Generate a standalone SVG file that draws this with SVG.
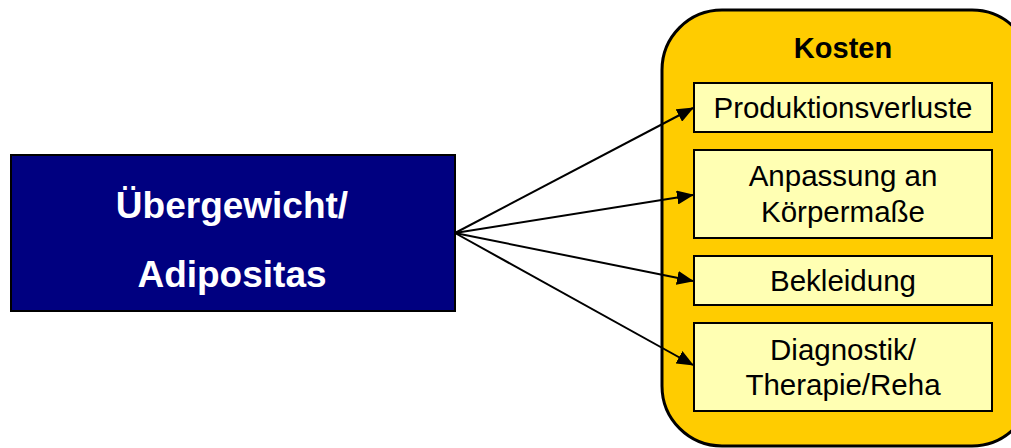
<svg xmlns="http://www.w3.org/2000/svg" width="1011" height="448" viewBox="0 0 1011 448">
<defs>
<style>
.item{fill:#FFFFB3;stroke:#000;stroke-width:2}
.t{font-family:"Liberation Sans",Arial,sans-serif;font-size:29.5px;fill:#000;text-anchor:middle}
.b{font-weight:bold}
.k{font-size:29px}
.w{fill:#fff;font-size:37px}
.c{stroke:#000;stroke-width:2;fill:none;marker-end:url(#ah)}
</style>
<marker id="ah" markerWidth="17" markerHeight="14" refX="16" refY="7" orient="auto" markerUnits="userSpaceOnUse">
<path d="M0,0 L17,7 L0,14 Z" fill="#000"/>
</marker>
</defs>
<rect width="1011" height="448" fill="#fff"/>
<g id="kosten">
<rect x="662" y="10" width="370" height="436" rx="60" ry="60" fill="#FFCC00" stroke="#000" stroke-width="3"/>
<text class="t b k" x="843" y="58">Kosten</text>
</g>
<g id="uebergewicht">
<rect x="11" y="155" width="444" height="156" fill="#000080" stroke="#000" stroke-width="2"/>
<text class="t b w" x="232" y="218">Übergewicht/</text>
<text class="t b w" x="232" y="287">Adipositas</text>
</g>
<g id="produktionsverluste">
<rect class="item" x="694" y="83" width="298" height="49"/>
<text class="t" x="843" y="118">Produktionsverluste</text>
</g>
<g id="anpassung">
<rect class="item" x="694" y="150" width="298" height="88"/>
<text class="t" x="843" y="186">Anpassung an</text>
<text class="t" x="843" y="222">Körpermaße</text>
</g>
<g id="bekleidung">
<rect class="item" x="694" y="256" width="298" height="49"/>
<text class="t" x="843" y="291">Bekleidung</text>
</g>
<g id="diagnostik">
<rect class="item" x="694" y="323" width="298" height="88"/>
<text class="t" x="843" y="360">Diagnostik/</text>
<text class="t" x="843" y="395">Therapie/Reha</text>
</g>
<g id="connectors">
<line class="c" x1="455" y1="233" x2="693" y2="108"/>
<line class="c" x1="455" y1="233" x2="693" y2="195"/>
<line class="c" x1="455" y1="233" x2="693" y2="281"/>
<line class="c" x1="455" y1="233" x2="693" y2="365"/>
</g>
</svg>
